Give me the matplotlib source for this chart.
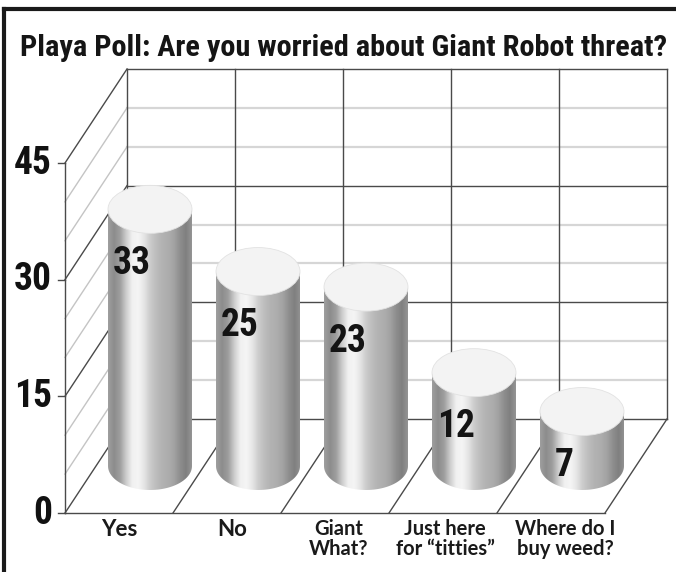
import numpy as np
import matplotlib
matplotlib.use("Agg")
import matplotlib.pyplot as plt
from matplotlib.patches import Ellipse, PathPatch
from matplotlib.path import Path
from matplotlib.lines import Line2D

title = 'Playa Poll: Are you worried about Giant Robot threat?'
categories = ['Yes', 'No', 'Giant\nWhat?', 'Just here\nfor \u201ctitties\u201d', 'Where do I\nbuy weed?']
votes = [33, 25, 23, 12, 7]
yticks = [0, 15, 30, 45]
ymax = 45

narrow = ['Roboto Condensed', 'DejaVu Sans']
roundish = ['Lato', 'DejaVu Sans']

# pixel layout of the fake 3d box
W, H = 676, 572
x0, y0 = 65, 513        # front bottom-left corner (px)
cat_px = 108            # px per category
val_px = 350 / 45       # px per vote
ddx, ddy = 62 / cat_px, 94 / val_px   # depth offset in data units
rad_x, rad_y = 42 / cat_px, 24 / val_px
label_nudge = [0, 5, 4, 2, 14]        # px, the labels are not quite centred

fig = plt.figure(figsize=(W / 100, H / 100), dpi=100)
ax = fig.add_axes([0, 0, 1, 1])
ax.set_xlim(-x0 / cat_px, (W - x0) / cat_px)
ax.set_ylim((y0 - H) / val_px, y0 / val_px)
ax.axis('off')

n = len(categories)
dark = '#4a4a4a'
light = '#d6d6d6'

# back wall
for v in range(5, ymax + 1, 5):
    major = v % 15 == 0
    ax.plot([ddx, n + ddx], [v + ddy, v + ddy], color=dark if major else light,
            lw=1.0 if major else 1.6, zorder=1)
ax.plot([ddx, n + ddx], [ddy, ddy], color=dark, lw=1.0, zorder=1)
for k in range(n + 1):
    ax.plot([k + ddx, k + ddx], [ddy, ymax + ddy], color=dark, lw=1.0, zorder=1.5)

# left wall
for v in range(5, ymax + 1, 5):
    major = v % 15 == 0
    ax.plot([0, ddx], [v, v + ddy], color=dark if major else '#c4c4c4',
            lw=1.0, zorder=1)
ax.plot([0, 0], [0, ymax], color=dark, lw=1.0, zorder=1.5)

# floor
ax.plot([0, n], [0, 0], color=dark, lw=1.0, zorder=1.5)
for k in range(n + 1):
    ax.plot([k, k + ddx], [0, ddy], color=dark, lw=1.0, zorder=1.5)

big = dict(fontweight='heavy', family=narrow, fontstretch='condensed')

# y ticks
for v in yticks:
    ax.plot([-7 / cat_px, 0], [v, v], color=dark, lw=1.0)
    ax.text(-13 / cat_px, v, str(v), ha='right', va='center', fontsize=27,
            color='#111111', **big)

# cylinder shading
shade = np.array([0.62, 0.55, 0.62, 0.80, 0.94, 0.96, 0.90, 0.80, 0.74, 0.70,
                  0.68, 0.64, 0.56, 0.50, 0.58])
shade = np.interp(np.linspace(0, len(shade) - 1, 200), np.arange(len(shade)), shade)

t = np.linspace(np.pi, 2 * np.pi, 60)
for i, v in enumerate(votes):
    cx = i + 0.5 + ddx / 2
    base = ddy / 2
    top = base + v
    verts = [(cx - rad_x, top), (cx - rad_x, base)]
    verts += [(cx + rad_x * np.cos(a), base + rad_y * np.sin(a)) for a in t]
    verts += [(cx + rad_x, top), (cx - rad_x, top)]
    body = PathPatch(Path(verts), fc='none', ec='none')
    ax.add_patch(body)
    im = ax.imshow(shade[None, :], cmap='gray', vmin=0, vmax=1, aspect='auto',
                   extent=[cx - rad_x, cx + rad_x, base - rad_y, top],
                   interpolation='bilinear', zorder=3)
    im.set_clip_path(body)
    ax.add_patch(Ellipse((cx, top), 2 * rad_x, 2 * rad_y, fc='#f3f3f3',
                         ec='#e2e2e2', lw=0.6, zorder=4))
    ax.text(cx - 18 / cat_px, top - 54 / val_px, str(v), ha='center', va='center',
            fontsize=27, color='#141414', zorder=5, **big)

# category labels
for i, c in enumerate(categories):
    two = '\n' in c
    ax.text(i + 0.5 + label_nudge[i] / cat_px, -6 / val_px, c, ha='center', va='top',
            fontsize=14.5 if two else 16, fontweight='bold', family=roundish,
            color='#1a1a1a', linespacing=1.0)

ax.set_xlim(-x0 / cat_px, (W - x0) / cat_px)
ax.set_ylim((y0 - H) / val_px, y0 / val_px)

ttl = fig.text(0.508, 1 - 48 / H, title, ha='center', va='center', fontsize=20,
               color='#151515', **big)
# size the title to the width it has in the poster
fig.canvas.draw()
w = ttl.get_window_extent().width
ttl.set_fontsize(20 * 648 / w)

# frame
fig.add_artist(Line2D([4 / W, 1], [1 - 9 / H, 1 - 9 / H], transform=fig.transFigure,
                      color='#1a1a1a', lw=3))
fig.add_artist(Line2D([4 / W, 4 / W], [0, 1 - 9 / H], transform=fig.transFigure,
                      color='#1a1a1a', lw=3))

fig.savefig('out.png', dpi=100)
